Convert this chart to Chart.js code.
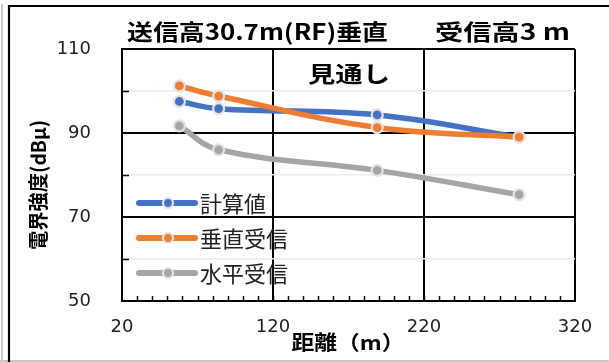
<!DOCTYPE html>
<html>
<head>
<meta charset="utf-8">
<script src="https://cdn.jsdelivr.net/npm/chart.js@4.4.1/dist/chart.umd.min.js"></script>
<style>
  html, body { margin: 0; padding: 0; background: #fff; }
  #wrap { position: relative; width: 609px; height: 362px; }
  canvas { display: block; }
</style>
</head>
<body>
<div id="wrap"><canvas id="c" width="609" height="362"></canvas></div>
<script>
// Measurement distances (m) and field strength (dBμ)
const distances = [58, 84, 189, 283];
const calcValues = [97.5, 95.8, 94.3, 89.0];
const vertValues = [101.2, 98.8, 91.3, 89.0];
const horizValues = [91.7, 86.0, 81.1, 75.3];

const seriesNames = ['計算値', '垂直受信', '水平受信'];
const seriesColors = ['#4472C4', '#ED7D31', '#A5A5A5'];

const xTickValues = [20, 120, 220, 320];
const yTickLabels = [50, 70, 90, 110];

const titleLeft = '送信高30.7m(RF)垂直';
const titleRight = '受信高3 m';
const areaNote = '見通し';
const xTitle = '距離（m）';
const yTitle = '電界強度(dBμ)';

const JP = '"Noto Sans CJK JP", "Noto Sans", sans-serif';
const NUM = '"DejaVu Sans", sans-serif';

function toPoints(ys) { return distances.map((d, i) => ({ x: d, y: ys[i] })); }

// later series are painted over earlier ones
function makeSet(label, values, color, idx) {
  return {
    label: label,
    data: toPoints(values),
    order: 10 - idx,
    borderColor: color,
    backgroundColor: color,
    borderWidth: 5.5,
    tension: 0.4,
    pointRadius: 5.5,
    pointBorderWidth: 2.2,
    pointBackgroundColor: color,
    pointBorderColor: '#e4e4e4',
    borderCapStyle: 'round',
    fill: false
  };
}

// Draws text stretched/squeezed horizontally to a given width
function fitText(ctx, text, x, y, width, font, align) {
  ctx.save();
  ctx.font = font;
  const w = ctx.measureText(text).width;
  const sx = width / w;
  let left = x;
  if (align === 'center') left = x - width / 2;
  ctx.translate(left, y);
  ctx.scale(sx, 1);
  ctx.textAlign = 'left';
  ctx.textBaseline = 'middle';
  ctx.fillText(text, 0, 0);
  ctx.restore();
}

const decorations = {
  id: 'decorations',
  beforeDraw(chart) {
    const ctx = chart.ctx;
    ctx.save();
    ctx.fillStyle = '#fff';
    ctx.fillRect(0, 0, chart.width, chart.height);
    // outer frame
    ctx.strokeStyle = '#c8c8c8';
    ctx.lineWidth = 2;
    ctx.beginPath();
    ctx.moveTo(2, 4); ctx.lineTo(2, 362);
    ctx.moveTo(0, 361); ctx.lineTo(609, 361);
    ctx.stroke();
    ctx.strokeStyle = '#000';
    ctx.lineWidth = 2.2;
    ctx.beginPath();
    ctx.moveTo(9, 362); ctx.lineTo(9, 6); ctx.lineTo(609, 6);
    ctx.stroke();
    ctx.restore();
  },
  beforeDatasetsDraw(chart) {
    const ctx = chart.ctx;
    const xs = chart.scales.x, ys = chart.scales.y;
    const a = chart.chartArea;
    ctx.save();
    ctx.strokeStyle = '#000';
    ctx.lineWidth = 1.5;
    ctx.beginPath();
    // minor tick marks along the bottom axis
    for (let v = 30; v < 320; v += 10) {
      const px = Math.round(xs.getPixelForValue(v)) + 0.5;
      ctx.moveTo(px, a.bottom); ctx.lineTo(px, a.bottom - 5);
    }
    // minor tick marks along the left axis
    for (let v = 60; v < 110; v += 20) {
      const py = Math.round(ys.getPixelForValue(v)) + 0.5;
      ctx.moveTo(a.left, py); ctx.lineTo(a.left + 7, py);
    }
    ctx.stroke();
    ctx.restore();
  },
  afterDraw(chart) {
    const ctx = chart.ctx;
    ctx.save();
    ctx.fillStyle = '#000';
    // chart titles
    fitText(ctx, titleLeft, 127, 32, 261, 'bold 22px ' + JP, 'left');
    fitText(ctx, titleRight, 435, 32, 135, 'bold 22px ' + JP, 'left');
    fitText(ctx, areaNote, 349, 74, 82, 'bold 22px ' + JP, 'center');
    // axis titles
    fitText(ctx, xTitle, 348, 342, 113, 'bold 20px ' + JP, 'center');
    ctx.save();
    ctx.translate(38, 185);
    ctx.rotate(-Math.PI / 2);
    fitText(ctx, yTitle, 0, 0, 130, 'bold 20px ' + JP, 'center');
    ctx.restore();

    // legend inside the plot
    const rows = [203, 238, 273];
    seriesNames.forEach((name, i) => {
      const y = rows[i];
      const color = seriesColors[i];
      ctx.strokeStyle = color;
      ctx.lineWidth = 6;
      ctx.lineCap = 'round';
      ctx.beginPath();
      ctx.moveTo(139, y); ctx.lineTo(195, y);
      ctx.stroke();
      ctx.beginPath();
      ctx.arc(168, y, 5, 0, Math.PI * 2);
      ctx.fillStyle = color;
      ctx.fill();
      ctx.lineWidth = 2.2;
      ctx.strokeStyle = '#e4e4e4';
      ctx.stroke();
      ctx.fillStyle = '#222';
      ctx.font = '22px ' + JP;
      ctx.textAlign = 'left';
      ctx.textBaseline = 'middle';
      ctx.fillText(name, 200, y + 1);
    });
    ctx.restore();
  }
};

new Chart(document.getElementById('c'), {
  type: 'line',
  data: {
    datasets: [
      makeSet(seriesNames[0], calcValues, seriesColors[0], 0),
      makeSet(seriesNames[1], vertValues, seriesColors[1], 1),
      makeSet(seriesNames[2], horizValues, seriesColors[2], 2)
    ]
  },
  options: {
    responsive: false,
    animation: false,
    events: [],
    layout: { padding: { left: 0, right: 34, top: 49, bottom: 0 } },
    plugins: { legend: { display: false }, tooltip: { enabled: false } },
    scales: {
      x: {
        type: 'linear',
        min: 20, max: 320,
        afterBuildTicks(scale) { scale.ticks = xTickValues.map(v => ({ value: v })); },
        afterFit(scale) { scale.height = 61; },
        grid: { color: '#000', lineWidth: 2, drawTicks: false },
        border: { display: true, color: '#000', width: 2 },
        ticks: { color: '#222', font: { family: NUM, size: 18 }, padding: 16, maxRotation: 0 }
      },
      y: {
        type: 'linear',
        min: 50, max: 110,
        ticks: {
          stepSize: 10,
          color: '#222',
          font: { family: NUM, size: 18 },
          padding: 31,
          callback: v => (yTickLabels.includes(v) ? String(v) : '')
        },
        afterFit(scale) { scale.width = 122; },
        grid: {
          drawTicks: false,
          color: c => (yTickLabels.includes(c.tick.value) ? '#000' : '#ececec'),
          lineWidth: c => (yTickLabels.includes(c.tick.value) ? 2 : 1.5)
        },
        border: { display: true, color: '#000', width: 2 }
      }
    }
  },
  plugins: [decorations]
});
</script>
</body>
</html>
